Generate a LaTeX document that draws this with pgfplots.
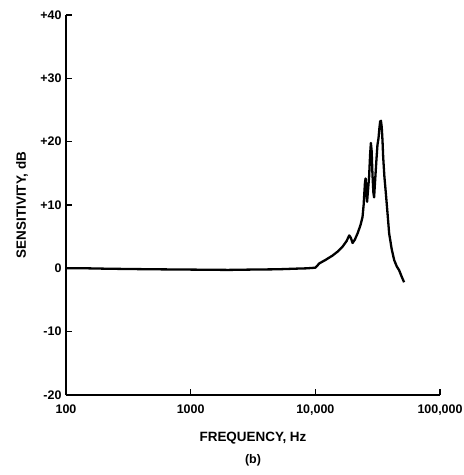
\documentclass[border=0pt]{standalone}
\usepackage{pgfplots}
\pgfplotsset{compat=1.18}
\usepackage{fontspec}
\setmainfont{Liberation Sans}
\begin{document}
\begin{tikzpicture}
\useasboundingbox (-66bp,-80bp) rectangle (398bp,395bp);
\begin{axis}[
  at={(0,0)}, anchor=south west,
  scale only axis, width=374bp, height=380bp,
  xmode=log, xmin=100, xmax=100000, ymin=-20, ymax=40,
  axis x line*=bottom, axis y line*=left,
  tick align=inside,
  xtick={100,1000,10000,100000},
  xticklabels={100,1000,{10,000},{100,000}},
  ytick={-20,-10,0,10,20,30,40},
  yticklabels={-20,-10,0,+10,+20,+30,+40},
  xminorticks=false, yminorticks=false,
  major tick length=6bp,
  axis line style={line width=1.6bp, black},
  tick style={line width=1.4bp, black},
  tick label style={font=\fontsize{12.5}{14}\selectfont\bfseries},
  xticklabel style={yshift=-6bp},
  yticklabel style={xshift=-1bp},
  xlabel={FREQUENCY,\ Hz},
  ylabel={SENSITIVITY, dB},
  label style={font=\fontsize{13.5}{15}\selectfont\bfseries},
  xlabel style={at={([yshift=-43bp]axis description cs:0.5,0)}, anchor=center},
  ylabel style={at={([xshift=-44bp]axis description cs:0,0.5)}, anchor=center},
  clip=false,
]
\addplot[black, line width=2.3bp, line join=round] coordinates {
(100,0) (150,0) (200,-0.05) (300,-0.1) (500,-0.15) (1000,-0.2) (2000,-0.25)
(3000,-0.2) (5000,-0.15) (7000,-0.05) (8500,0) (10000,0.1)
(10800,0.8) (12000,1.3) (13700,2.0) (15000,2.6) (16500,3.4) (17800,4.3)
(18700,5.2) (19300,4.8) (19900,4.0) (20700,4.5) (21800,5.5) (23000,6.8)
(23900,8.1) (24400,10) (24700,11.8) (25000,13.5) (25300,14.2) (25700,12)
(26000,10.5) (26500,12.5) (27000,14.5) (27500,18) (27900,19.8) (28300,18.5)
(28700,15) (29200,12) (29600,11.2) (30200,14) (30900,17.1) (31500,19.5)
(32100,20.5) (32600,22) (33100,23.2) (33600,23.3) (34100,22.3) (34600,20)
(35000,17.6) (35800,14.5) (36800,11.8) (38000,8.5) (39100,5.5) (41000,3)
(42900,1.3) (45000,0.3) (47000,-0.3) (49000,-1.2) (51500,-2.2)
};
\node[font=\fontsize{12.5}{14}\selectfont\bfseries] at ([yshift=-65bp]axis description cs:0.5,0) {(b)};
\end{axis}
\end{tikzpicture}
\end{document}
